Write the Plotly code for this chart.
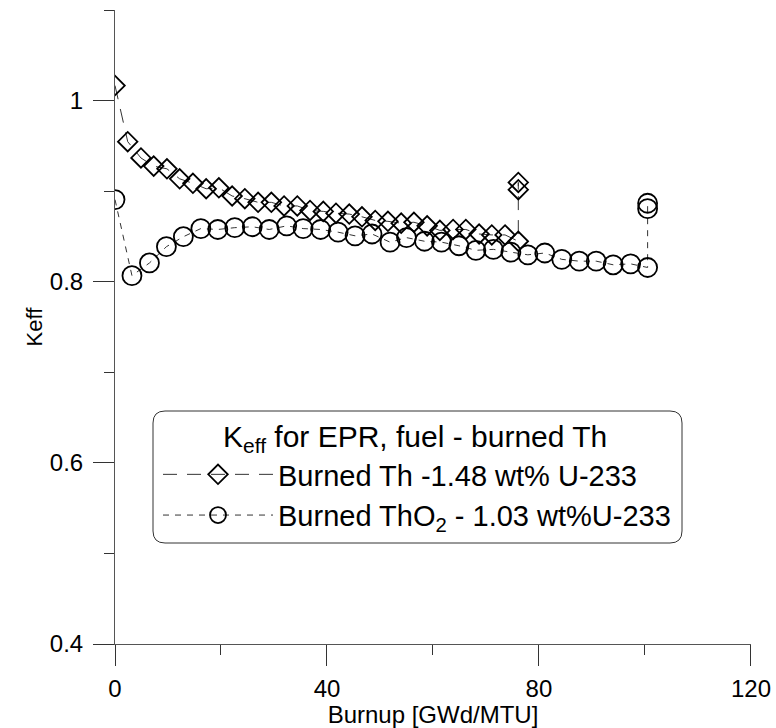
import plotly.graph_objects as go

# ---- data ----
burnup_th = [0, 2.4, 4.9, 7.3, 9.8, 12.2, 14.7, 17.2, 19.6, 22.1, 24.5, 27.0, 29.5,
             31.9, 34.4, 36.8, 39.3, 41.7, 44.2, 46.6, 49.1, 51.5, 54.0, 56.4, 58.9,
             61.3, 63.8, 66.2, 68.7, 71.1, 73.6, 76.1, 76.1, 76.1]
keff_th = [1.017, 0.955, 0.937, 0.928, 0.925, 0.914, 0.909, 0.903, 0.904, 0.895, 0.892,
           0.888, 0.888, 0.884, 0.884, 0.879, 0.878, 0.876, 0.875, 0.872, 0.868, 0.867,
           0.865, 0.866, 0.862, 0.857, 0.858, 0.858, 0.853, 0.852, 0.852, 0.845, 0.910, 0.902]

burnup_tho2 = [0, 3.2, 6.5, 9.7, 12.9, 16.2, 19.4, 22.6, 25.9, 29.1, 32.4, 35.5, 38.8,
               42.1, 45.3, 48.5, 51.9, 55.0, 58.4, 61.6, 64.9, 68.1, 71.4, 74.7, 77.9,
               81.1, 84.3, 87.6, 90.8, 94.0, 97.3, 100.5, 100.5, 100.5]
keff_tho2 = [0.891, 0.807, 0.821, 0.839, 0.850, 0.859, 0.858, 0.860, 0.861, 0.858, 0.862,
             0.859, 0.858, 0.855, 0.851, 0.853, 0.844, 0.849, 0.845, 0.844, 0.840, 0.835,
             0.836, 0.833, 0.830, 0.832, 0.825, 0.823, 0.823, 0.819, 0.820, 0.816, 0.881, 0.887]

name_th = "Burned Th -1.48 wt% U-233"
name_tho2 = "Burned ThO<sub>2</sub> - 1.03 wt%U-233"
legend_title = "K<sub>eff</sub> for EPR, fuel - burned Th"
x_title = "Burnup [GWd/MTU]"
y_title = "Keff"

FONT = "Liberation Sans, Arial, sans-serif"

fig = go.Figure()
fig.add_trace(go.Scatter(
    x=burnup_th, y=keff_th, name=name_th, mode="lines+markers",
    line=dict(color="#333", width=1, dash="14px,10px"),
    marker=dict(symbol="diamond-open", size=15, color="black", line=dict(width=1.8, color="black")),
))
fig.add_trace(go.Scatter(
    x=burnup_tho2, y=keff_tho2, name=name_tho2, mode="lines+markers",
    line=dict(color="#333", width=1, dash="6px,6px"),
    marker=dict(symbol="circle-open", size=19, color="black", line=dict(width=1.8, color="black")),
))

W, H = 776, 728
PL, PT, PR, PB = 115, 10, 751, 644          # plot area in page pixels
L, T, R, B = PL, PT, W - PR, H - PB
pw, ph = PR - PL, PB - PT

def px2paper(x, y):
    return (x - PL) / pw, (PB - y) / ph

# rounded legend frame
bx0, by0, bx1, by1, rad = 153, 411, 682, 543, 12
rx, ry = rad / pw, rad / ph
x0, y0 = px2paper(bx0, by0)
x1, y1 = px2paper(bx1, by1)
path = (f"M{x0+rx},{y0} L{x1-rx},{y0} Q{x1},{y0} {x1},{y0-ry} "
        f"L{x1},{y1+ry} Q{x1},{y1} {x1-rx},{y1} L{x0+rx},{y1} Q{x0},{y1} {x0},{y1+ry} "
        f"L{x0},{y0-ry} Q{x0},{y0} {x0+rx},{y0} Z")
fig.add_shape(type="path", xref="paper", yref="paper", path=path,
              line=dict(color="#333", width=1), fillcolor="white", layer="below")

# legend title line (centred in the frame)
tx, ty = px2paper(414.5, 438)
fig.add_annotation(xref="paper", yref="paper", x=tx, y=ty, xanchor="center", yanchor="middle",
                   text=legend_title, showarrow=False, font=dict(size=30, family=FONT, color="black"))

lx, ly = px2paper(158, 449)
fig.update_layout(
    width=W, height=H,
    margin=dict(l=L, r=R, t=T, b=B),
    paper_bgcolor="white", plot_bgcolor="rgba(0,0,0,0)",
    font=dict(family=FONT, color="black"),
    showlegend=True,
    legend=dict(
        x=lx, y=ly, xanchor="left", yanchor="top",
        bgcolor="rgba(0,0,0,0)", borderwidth=0,
        font=dict(size=29, family=FONT, color="black"),
        itemwidth=110, tracegroupgap=0,
    ),
    xaxis=dict(
        range=[0, 120.01], tick0=0, dtick=40, ticks="outside", ticklen=21, tickwidth=1,
        tickcolor="#333", showline=True, linecolor="#555", linewidth=1,
        showgrid=False, zeroline=False, automargin=False,
        tickfont=dict(size=24, family=FONT), ticklabelstandoff=2,
        minor=dict(dtick=20, ticks="outside", ticklen=10, tickcolor="#333", showgrid=False),
        title=dict(text=x_title, font=dict(size=24, family=FONT), standoff=5),
    ),
    yaxis=dict(
        range=[0.4, 1.1005], tick0=0.4, dtick=0.2, ticks="outside", ticklen=21, tickwidth=1,
        tickcolor="#333", showline=True, linecolor="#555", linewidth=1,
        showgrid=False, zeroline=False, automargin=False,
        tickfont=dict(size=24, family=FONT), ticklabelstandoff=5,
        minor=dict(dtick=0.1, ticks="outside", ticklen=10, tickcolor="#333", showgrid=False),
        title=dict(text=y_title, font=dict(size=22, family=FONT), standoff=1),
    ),
)

page_css = "margin:0;padding:0;overflow:hidden;width:776px;height:728px;"
fig.write_html(
    "out.html",
    config={"displayModeBar": False},
    post_script=(f"document.documentElement.style.cssText='{page_css}';"
                 f"document.body.style.cssText='{page_css}';"),
)
